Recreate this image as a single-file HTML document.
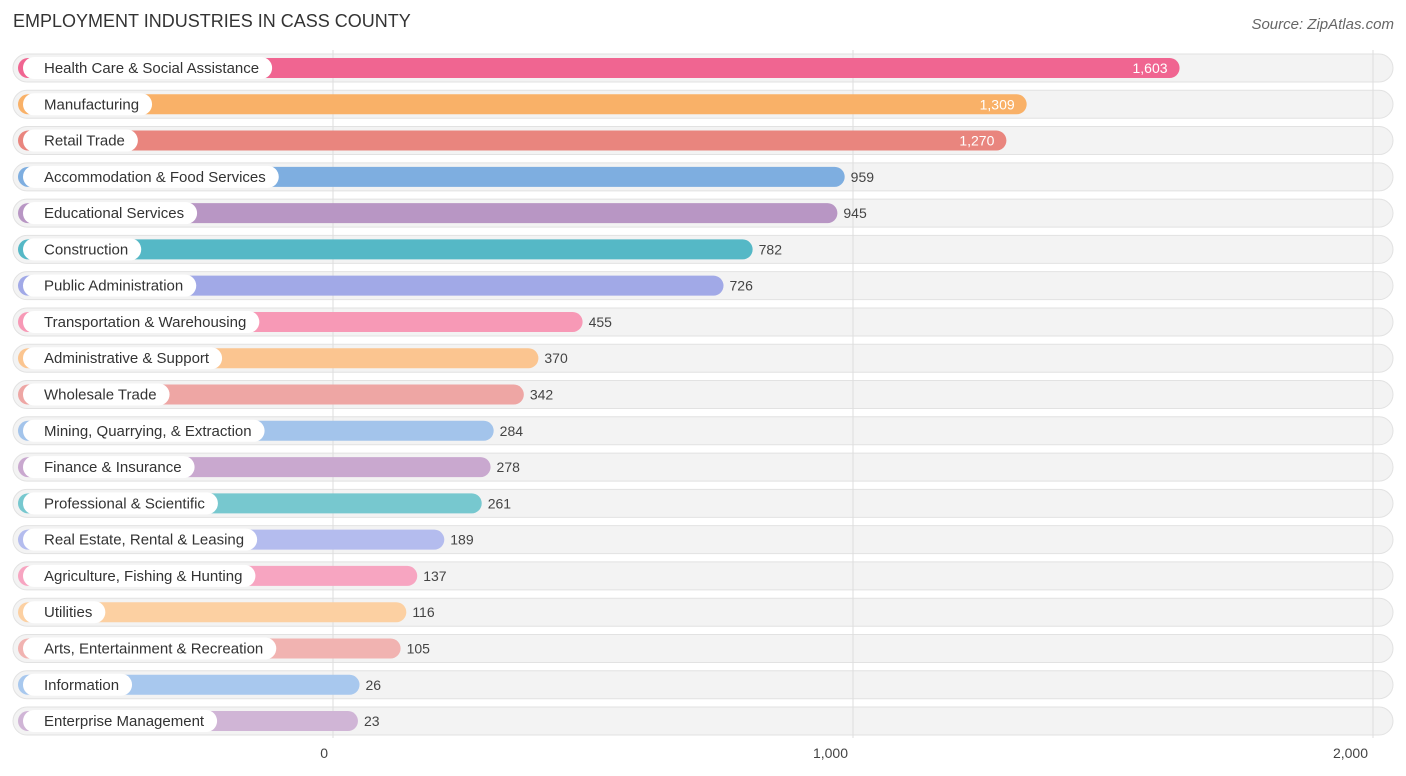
<!DOCTYPE html>
<html><head><meta charset="utf-8"><style>
body{margin:0;width:1406px;height:776px;background:#fff;font-family:"Liberation Sans",sans-serif;overflow:hidden;position:relative}
.t{position:absolute;left:13px;top:11px;font-size:18px;color:#333}
.s{position:absolute;right:12px;top:16px;font-size:15px;color:#666;font-style:italic}
svg{position:absolute;left:0;top:0}
</style></head><body>
<div class="t">EMPLOYMENT INDUSTRIES IN CASS COUNTY</div>
<div class="s">Source: ZipAtlas.com</div>
<svg id="c" width="1406" height="776"></svg>
<script>
const categories=["Health Care & Social Assistance","Manufacturing","Retail Trade","Accommodation & Food Services","Educational Services","Construction","Public Administration","Transportation & Warehousing","Administrative & Support","Wholesale Trade","Mining, Quarrying, & Extraction","Finance & Insurance","Professional & Scientific","Real Estate, Rental & Leasing","Agriculture, Fishing & Hunting","Utilities","Arts, Entertainment & Recreation","Information","Enterprise Management"];
const values=[1603,1309,1270,959,945,782,726,455,370,342,284,278,261,189,137,116,105,26,23];
const tickValues=[0,1000,2000];
const tickLabels=["0","1,000","2,000"];
const colors=["#f06591","#f9b168","#e9857e","#7eaee0","#b896c4","#55b8c6","#a1a9e7","#f799b6","#fbc590","#eea6a4","#a3c4eb","#c9a8cf","#77c8cf","#b4bcee","#f7a5c1","#fcd0a2","#f1b3b1","#a8c8ee","#d0b5d6"];
const svg=document.getElementById('c');const NS="http://www.w3.org/2000/svg";
const x=v=>333+v*0.52;
const rowY=i=>68+i*36.28;
function mk(t,a){const e=document.createElementNS(NS,t);for(const k in a)e.setAttribute(k,a[k]);svg.appendChild(e);return e;}
categories.forEach((c,i)=>{const y=rowY(i);
const bg=mk('rect',{x:13,y:y-14,width:1380,height:28,rx:14,fill:'#f3f3f3',stroke:'#e2e2e2'});

});
tickValues.forEach((v,i)=>{const l=mk('line',{x1:x(v),x2:x(v),y1:50,y2:738,stroke:'#ddd','stroke-width':1});


const t=mk('text',{x:x(v)-5,y:758,'text-anchor':'end','font-size':14,fill:'#444'});t.textContent=tickLabels[i];

});
categories.forEach((c,i)=>{const y=rowY(i),end=x(values[i])+13;
const b=mk('rect',{x:18,y:y-10,width:end-18,height:20,rx:10,fill:colors[i]});


const p=mk('rect',{x:23,y:y-11,width:100,height:22,rx:11,fill:'#fff'});


const t=mk('text',{x:44,y:y+5,'font-size':15,fill:'#333'});t.textContent=c;


p.setAttribute('width',t.getComputedTextLength()+34);
const inside=values[i]>1000;
const v=mk('text',{x:inside?end-12:end+6,y:y+5,'font-size':14,'text-anchor':inside?'end':'start',fill:inside?'#fff':'#444'});
v.textContent=values[i].toLocaleString('en-US');

});
</script>
</body></html>
